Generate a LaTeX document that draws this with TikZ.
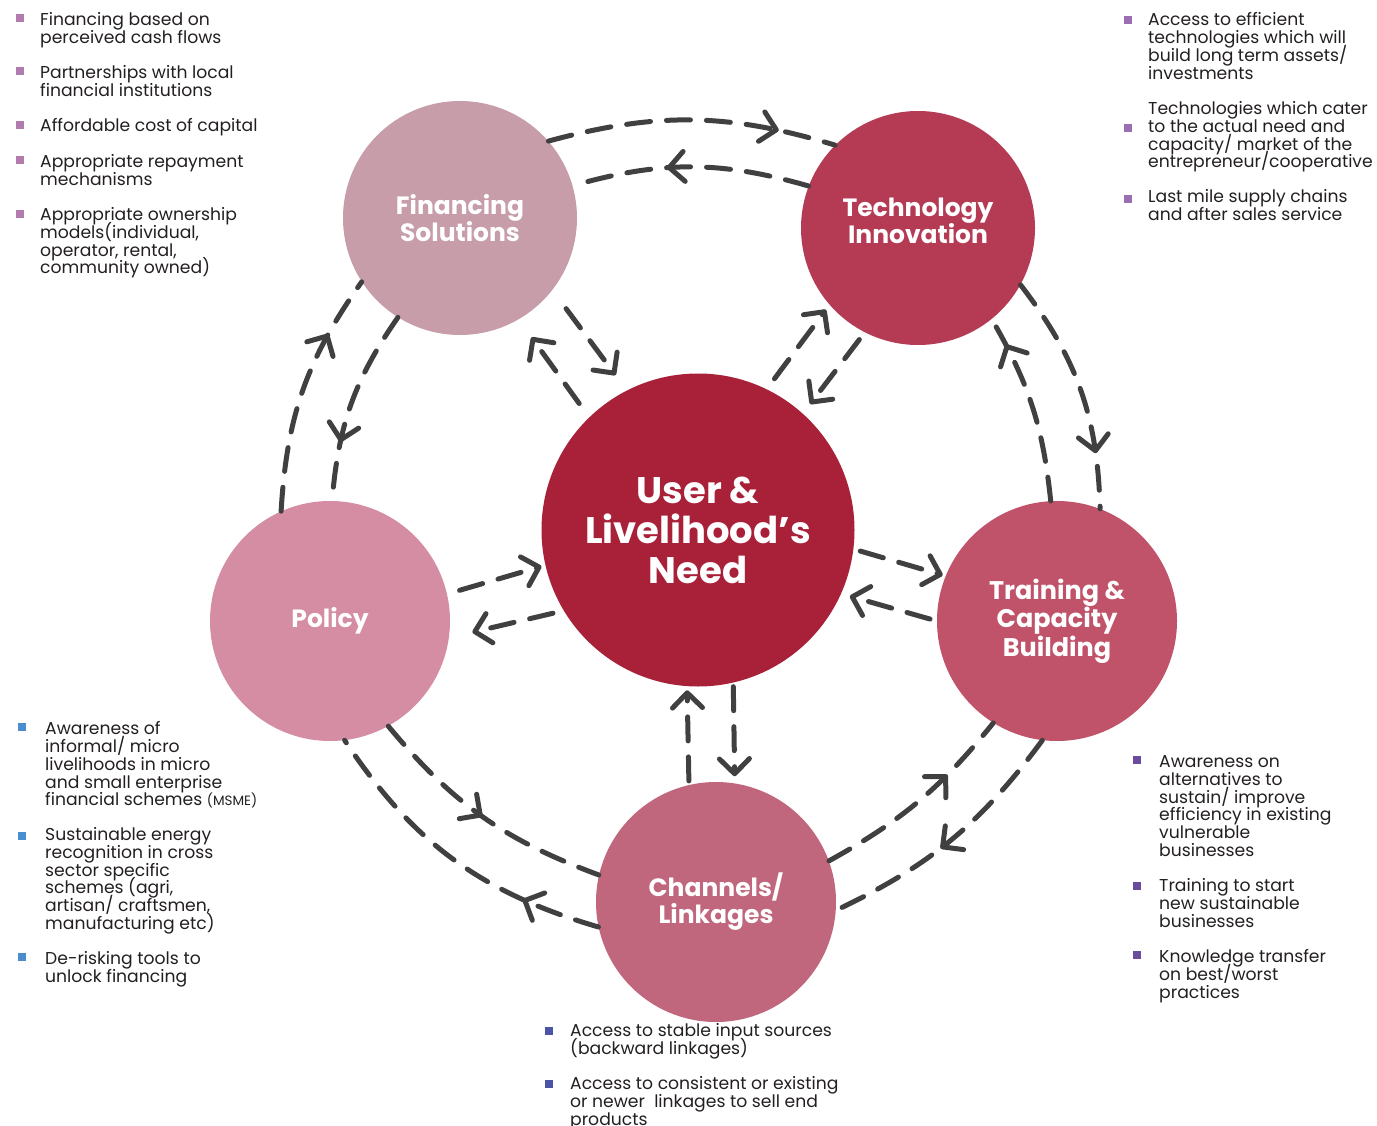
\documentclass[tikz,border=0pt]{standalone}
\usepackage{fontspec}
\setmainfont{Poppins}
\usetikzlibrary{arrows.meta,decorations.markings}

\definecolor{fincol}{HTML}{C79DAA}
\definecolor{techcol}{HTML}{B53A54}
\definecolor{usercol}{HTML}{A82139}
\definecolor{polcol}{HTML}{D48DA3}
\definecolor{traincol}{HTML}{C0526A}
\definecolor{chancol}{HTML}{C0677E}
\definecolor{linecol}{HTML}{404040}
\definecolor{txtcol}{HTML}{231F20}
\definecolor{finbul}{HTML}{B27BB0}
\definecolor{techbul}{HTML}{9B6DB3}
\definecolor{polbul}{HTML}{4A8ED0}
\definecolor{trainbul}{HTML}{6B4B9E}
\definecolor{chanbul}{HTML}{4B54A6}

\tikzset{
  vbarb/.tip={Straight Barb[length=15pt,width=30pt,round]},
  hubfont/.style={font=\bfseries\fontsize{25}{27}\selectfont},
  hub/.style={circle, fill=#1, text=white, align=center, inner sep=0pt, hubfont},
  flow/.style={draw=linecol, line width=5pt, line cap=round,
    dash pattern=on 24pt off 16pt},
  radial/.style 2 args={flow, -vbarb, shorten <=#1pt, shorten >=#2pt},
  ringflow/.style={flow, postaction={decorate},
    decoration={markings, mark=at position #1 with {\arrow{vbarb}}}},
  note/.style={anchor=north west, yshift=12.4pt, align=left, inner sep=0pt,
    text=txtcol, font=\fontsize{17.2}{17.7}\selectfont,
    execute at begin node=\strut},
  sq/.style={fill=#1, minimum size=8pt, inner sep=0pt}
}

\begin{document}
\setlength{\lineskiplimit}{-100pt}
\begin{tikzpicture}[x=1pt,y=-1pt]
  \useasboundingbox (0,0) rectangle (1377,1126);

  % circles
  \node[hub=fincol, minimum size=234pt] (fin) at (460,218) {Financing\\Solutions};
  \node[hub=techcol, minimum size=234pt,
    label={[text=white, align=center, hubfont, yshift=7pt]center:Technology\\Innovation}]
    (tech) at (918,228) {};
  \node[hub=usercol, minimum size=313pt, font=\bfseries\fontsize{37}{40}\selectfont]
    (user) at (698,530) {User \&\\Livelihood’s\\Need};
  \node[hub=polcol, minimum size=240pt] (pol) at (330,621) {Policy};
  \node[hub=traincol, minimum size=240pt, font=\bfseries\fontsize{25.5}{28.5}\selectfont]
    (train) at (1057,621) {Training \&\\Capacity\\Building};
  \node[hub=chancol, minimum size=240pt] (chan) at (716,902) {Channels/\\Linkages};

  % outer ring
  \draw[ringflow=0.8] (fin.41) to[bend left=16] (tech.135);
  \draw[ringflow=0.77] (tech.-29) to[bend left=18] (train.69);
  \draw[ringflow=0.55] (train.-97) to[bend left=14] (chan.-4);
  \draw[ringflow=0.25] (chan.192) to[bend left=20] (pol.-83);
  \draw[ringflow=0.75] (pol.114) to[bend left=16] (fin.213);

  % inner ring
  \draw[ringflow=0.6] (tech.159) to[bend right=16] (fin.16);
  \draw[ringflow=0.85] (train.93) to[bend right=12] (tech.-51);
  \draw[ringflow=0.68] (chan.20) to[bend right=11] (train.-122);
  \draw[ringflow=0.5] (pol.-61) to[bend right=15] (chan.167);
  \draw[ringflow=0.7] (fin.238) to[bend right=15] (pol.89);

  % to and from the centre
  \draw[radial={23}{19}] (fin.-38) -- (user.117);
  \draw[radial={17}{22}] (user.134) -- (fin.-60);
  \draw[radial={13}{6}] (user.64) -- (tech.-139);
  \draw[radial={9}{12}] (tech.-117) -- (user.48);
  \draw[radial={13}{4}] (pol.13) -- (user.193);
  \draw[radial={11}{24}] (user.211) -- (pol.-8);
  \draw[radial={7}{3}] (user.-7) -- (train.158);
  \draw[radial={7}{9}] (train.180) -- (user.-24);
  \draw[radial={4}{4}] (chan.103) -- (user.-94);
  \draw[radial={4}{7}] (user.-77) -- (chan.81);

  % financing notes
  \node[sq=finbul] (fb1) at (20,18) {};
  \node[note] (fn1) at (40,25) {Financing based on\\perceived cash flows};
  \node[sq=finbul] (fb2) at (20,71) {};
  \node[note] (fn2) at (40,78) {Partnerships with local\\financial institutions};
  \node[sq=finbul] (fb3) at (20,125) {};
  \node[note] (fn3) at (40,131) {Affordable cost of capital};
  \node[sq=finbul] (fb4) at (20,160) {};
  \node[note] (fn4) at (40,167) {Appropriate repayment\\mechanisms};
  \node[sq=finbul] (fb5) at (20,214) {};
  \node[note] (fn5) at (40,220) {Appropriate ownership\\models(individual,\\operator, rental,\\community owned)};

  % technology notes
  \node[sq=techbul] (tb1) at (1128,20) {};
  \node[note] (tn1) at (1148,25) {Access to efficient\\technologies which will\\build long term assets/\\investments};
  \node[sq=techbul] (tb2) at (1128,128) {};
  \node[note] (tn2) at (1148,114) {Technologies which cater\\to the actual need and\\capacity/ market of the\\entrepreneur/cooperative};
  \node[sq=techbul] (tb3) at (1128,199) {};
  \node[note] (tn3) at (1148,202) {Last mile supply chains\\and after sales service};

  % policy notes
  \node[sq=polbul] (pb1) at (22,727) {};
  \node[note] (pn1) at (45,734) {Awareness of\\informal/ micro\\livelihoods in micro\\and small enterprise\\financial schemes {\fontsize{13.5}{17.7}\selectfont(MSME)}};
  \node[sq=polbul] (pb2) at (22,836) {};
  \node[note] (pn2) at (45,840) {Sustainable energy\\recognition in cross\\sector specific\\schemes (agri,\\artisan/ craftsmen,\\manufacturing etc)};
  \node[sq=polbul] (pb3) at (22,957) {};
  \node[note] (pn3) at (45,964) {De-risking tools to\\unlock financing};

  % training notes
  \node[sq=trainbul] (rb1) at (1137,760) {};
  \node[note] (rn1) at (1159,768) {Awareness on\\alternatives to\\sustain/ improve\\efficiency in existing\\vulnerable\\businesses};
  \node[sq=trainbul] (rb2) at (1137,886) {};
  \node[note] (rn2) at (1159,891) {Training to start\\new sustainable\\businesses};
  \node[sq=trainbul] (rb3) at (1137,955) {};
  \node[note] (rn3) at (1159,962) {Knowledge transfer\\on best/worst\\practices};

  % channels notes
  \node[sq=chanbul] (cb1) at (549,1031) {};
  \node[note] (cn1) at (570,1036) {Access to stable input sources\\(backward linkages)};
  \node[sq=chanbul] (cb2) at (549,1084) {};
  \node[note] (cn2) at (570,1089) {Access to consistent or existing\\or newer \ linkages to sell end\\products};
\end{tikzpicture}
\end{document}
